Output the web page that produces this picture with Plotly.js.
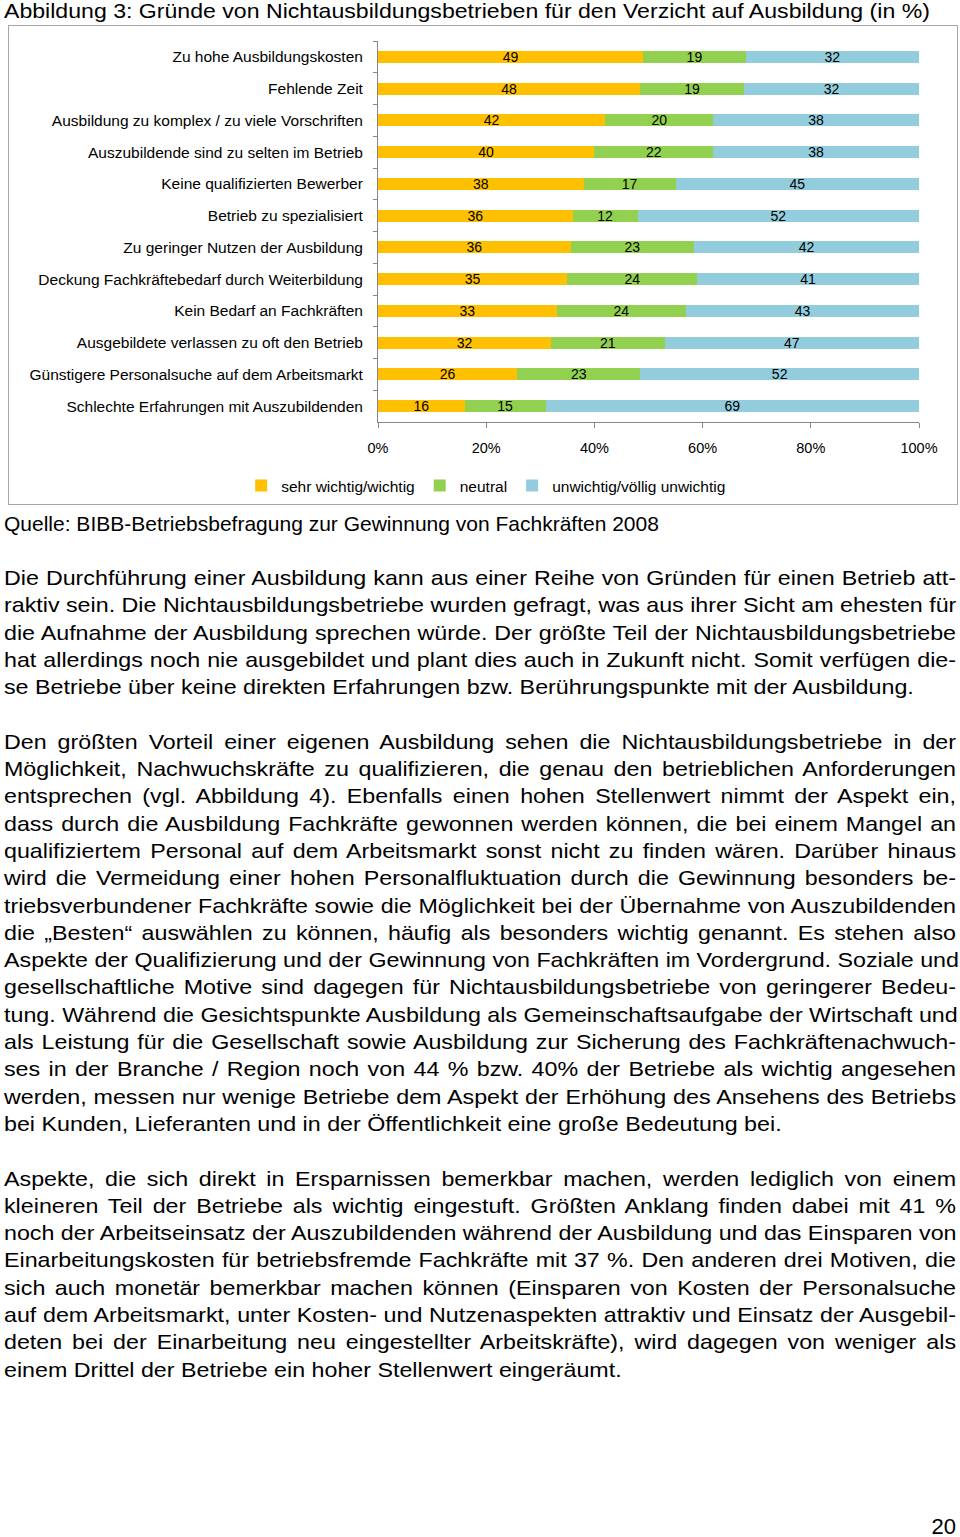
<!DOCTYPE html>
<html>
<head>
<meta charset="utf-8">
<script src="https://cdn.plot.ly/plotly-3.0.1.min.js"></script>
<style>
  html, body { margin:0; padding:0; background:#fff; }
  body { width:960px; height:1537px; position:relative; overflow:hidden; font-family:"Liberation Sans", Arial, sans-serif; color:#000; }
  #title { position:absolute; left:4px; top:0px; font-size:21px; line-height:21px; white-space:nowrap; transform:scaleX(1.10); transform-origin:0 0; }
  #frame { position:absolute; left:8px; top:25px; width:950px; height:480px; border:1px solid #a6a6a6; box-sizing:border-box; }
  #chart { position:absolute; left:8px; top:25px; width:950px; height:480px; }
  #source { position:absolute; left:4px; top:513px; font-size:21px; line-height:22px; white-space:nowrap; }
  #body { position:absolute; left:4px; top:564px; width:860px; font-size:21px; line-height:27.3px; transform:scaleX(1.107); transform-origin:0 0; }
  #body .j { text-align:justify; text-align-last:justify; white-space:nowrap; height:27.3px; }
  #body .l { text-align:left; white-space:nowrap; height:27.3px; }
  #body .gap { height:27.3px; }
  #page { position:absolute; right:4px; top:1516px; font-size:22px; line-height:22px; }
</style>
</head>
<body>
<div id="title">Abbildung 3: Gründe von Nichtausbildungsbetrieben für den Verzicht auf Ausbildung (in %)</div>
<div id="frame"></div>
<div id="chart"></div>
<div id="source">Quelle: BIBB-Betriebsbefragung zur Gewinnung von Fachkräften 2008</div>
<div id="body">
<div class="j">Die Durchführung einer Ausbildung kann aus einer Reihe von Gründen für einen Betrieb att-</div>
<div class="j">raktiv sein. Die Nichtausbildungsbetriebe wurden gefragt, was aus ihrer Sicht am ehesten für</div>
<div class="j">die Aufnahme der Ausbildung sprechen würde. Der größte Teil der Nichtausbildungsbetriebe</div>
<div class="j">hat allerdings noch nie ausgebildet und plant dies auch in Zukunft nicht. Somit verfügen die-</div>
<div class="l">se Betriebe über keine direkten Erfahrungen bzw. Berührungspunkte mit der Ausbildung.</div>
<div class="gap"></div>
<div class="j">Den größten Vorteil einer eigenen Ausbildung sehen die Nichtausbildungsbetriebe in der</div>
<div class="j">Möglichkeit, Nachwuchskräfte zu qualifizieren, die genau den betrieblichen Anforderungen</div>
<div class="j">entsprechen (vgl. Abbildung 4). Ebenfalls einen hohen Stellenwert nimmt der Aspekt ein,</div>
<div class="j">dass durch die Ausbildung Fachkräfte gewonnen werden können, die bei einem Mangel an</div>
<div class="j">qualifiziertem Personal auf dem Arbeitsmarkt sonst nicht zu finden wären. Darüber hinaus</div>
<div class="j">wird die Vermeidung einer hohen Personalfluktuation durch die Gewinnung besonders be-</div>
<div class="j">triebsverbundener Fachkräfte sowie die Möglichkeit bei der Übernahme von Auszubildenden</div>
<div class="j">die „Besten“ auswählen zu können, häufig als besonders wichtig genannt. Es stehen also</div>
<div class="j">Aspekte der Qualifizierung und der Gewinnung von Fachkräften im Vordergrund. Soziale und</div>
<div class="j">gesellschaftliche Motive sind dagegen für Nichtausbildungsbetriebe von geringerer Bedeu-</div>
<div class="j">tung. Während die Gesichtspunkte Ausbildung als Gemeinschaftsaufgabe der Wirtschaft und</div>
<div class="j">als Leistung für die Gesellschaft sowie Ausbildung zur Sicherung des Fachkräftenachwuch-</div>
<div class="j">ses in der Branche / Region noch von 44 % bzw. 40% der Betriebe als wichtig angesehen</div>
<div class="j">werden, messen nur wenige Betriebe dem Aspekt der Erhöhung des Ansehens des Betriebs</div>
<div class="l">bei Kunden, Lieferanten und in der Öffentlichkeit eine große Bedeutung bei.</div>
<div class="gap"></div>
<div class="j">Aspekte, die sich direkt in Ersparnissen bemerkbar machen, werden lediglich von einem</div>
<div class="j">kleineren Teil der Betriebe als wichtig eingestuft. Größten Anklang finden dabei mit 41 %</div>
<div class="j">noch der Arbeitseinsatz der Auszubildenden während der Ausbildung und das Einsparen von</div>
<div class="j">Einarbeitungskosten für betriebsfremde Fachkräfte mit 37 %. Den anderen drei Motiven, die</div>
<div class="j">sich auch monetär bemerkbar machen können (Einsparen von Kosten der Personalsuche</div>
<div class="j">auf dem Arbeitsmarkt, unter Kosten- und Nutzenaspekten attraktiv und Einsatz der Ausgebil-</div>
<div class="j">deten bei der Einarbeitung neu eingestellter Arbeitskräfte), wird dagegen von weniger als</div>
<div class="l">einem Drittel der Betriebe ein hoher Stellenwert eingeräumt.</div>
</div>
<div id="page">20</div>
<script>
const categories = [
  "Zu hohe Ausbildungskosten",
  "Fehlende Zeit",
  "Ausbildung zu komplex / zu viele Vorschriften",
  "Auszubildende sind zu selten im Betrieb",
  "Keine qualifizierten Bewerber",
  "Betrieb zu spezialisiert",
  "Zu geringer Nutzen der Ausbildung",
  "Deckung Fachkräftebedarf durch Weiterbildung",
  "Kein Bedarf an Fachkräften",
  "Ausgebildete verlassen zu oft den Betrieb",
  "Günstigere Personalsuche auf dem Arbeitsmarkt",
  "Schlechte Erfahrungen mit Auszubildenden"
];
const seriesNames = ["sehr wichtig/wichtig", "neutral", "unwichtig/völlig unwichtig"];
const wichtig   = [49, 48, 42, 40, 38, 36, 36, 35, 33, 32, 26, 16];
const neutral   = [19, 19, 20, 22, 17, 12, 23, 24, 24, 21, 23, 15];
const unwichtig = [32, 32, 38, 38, 45, 52, 42, 41, 43, 47, 52, 69];
const colors = ["#FFC000", "#92D050", "#93CDDD"];

const seriesValues = [wichtig, neutral, unwichtig];
const traces = seriesValues.map((vals, i) => ({
  type: "bar",
  orientation: "h",
  name: seriesNames[i],
  y: categories,
  x: vals,
  text: vals.map(String),
  texttemplate: "%{text}",
  textposition: "inside",
  textangle: 0,
  insidetextanchor: "middle",
  constraintext: "none",
  textfont: {family: "Liberation Sans, Arial, sans-serif", size: 14, color: "#000"},
  marker: {color: colors[i], line: {width: 0}},
  hoverinfo: "skip"
}));

const layout = {
  width: 950,
  height: 480,
  margin: {l: 370, r: 39, t: 16, b: 83, autoexpand: false},
  paper_bgcolor: "rgba(0,0,0,0)",
  plot_bgcolor: "rgba(0,0,0,0)",
  barmode: "stack",
  barnorm: "percent",
  bargap: 0.62,
  showlegend: true,
  legend: {
    orientation: "h",
    x: 0.2, xanchor: "center",
    y: -0.168, yanchor: "middle",
    font: {family: "Liberation Sans, Arial, sans-serif", size: 15.5, color: "#000"},
    itemwidth: 30,
    traceorder: "normal"
  },
  font: {family: "Liberation Sans, Arial, sans-serif", size: 15, color: "#000"},
  xaxis: {
    range: [0, 100],
    dtick: 20,
    tick0: 0,
    ticksuffix: "%",
    showgrid: false,
    zeroline: false,
    showline: true,
    linecolor: "#868686",
    linewidth: 1,
    ticks: "outside",
    ticklen: 5,
    tickcolor: "#868686",
    ticklabelstandoff: 8,
    tickfont: {size: 14.5, color: "#000"},
    fixedrange: true,
    automargin: false
  },
  yaxis: {
    type: "category",
    categoryorder: "array",
    categoryarray: categories,
    autorange: "reversed",
    showgrid: false,
    zeroline: false,
    showline: true,
    linecolor: "#868686",
    linewidth: 1,
    ticks: "outside",
    tickson: "boundaries",
    ticklen: 4,
    tickcolor: "#868686",
    ticklabelstandoff: 11,
    tickfont: {size: 15.5, color: "#000"},
    fixedrange: true,
    automargin: false
  }
};

Plotly.newPlot("chart", traces, layout, {displayModeBar: false, staticPlot: true});
</script>
</body>
</html>
